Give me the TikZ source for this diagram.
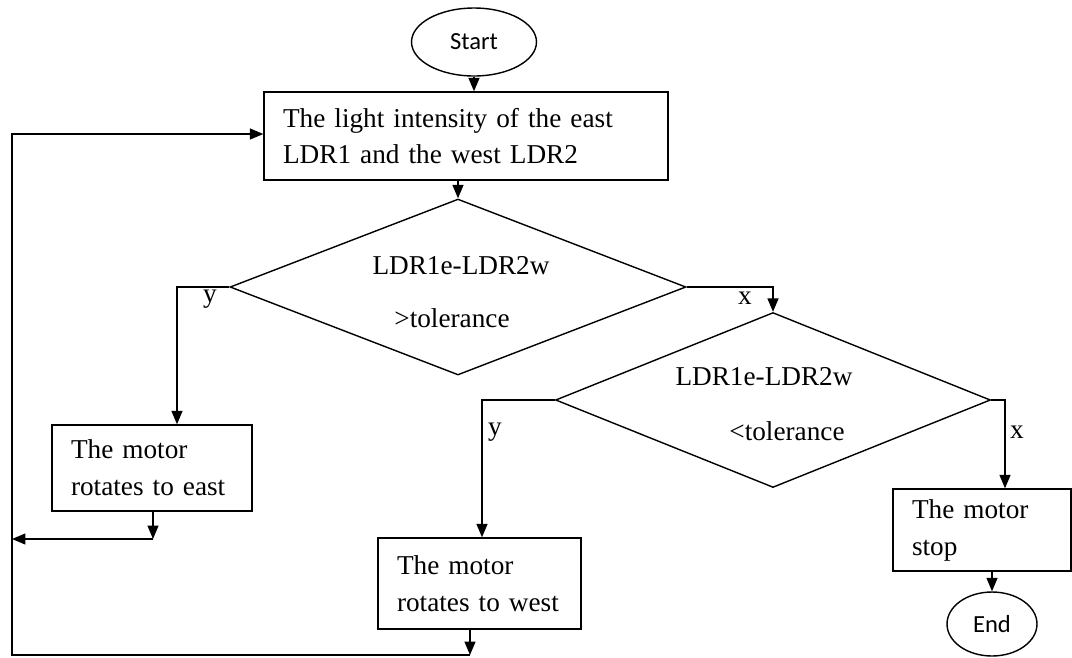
\documentclass[tikz,border=0pt]{standalone}
\usepackage{fontspec}
\setmainfont{Liberation Serif}
\newfontfamily\termfont{Carlito}
\usepackage{tikz}
\usetikzlibrary{positioning}
\usetikzlibrary{shapes.geometric,arrows.meta,calc}
\pgfkeys{tikz/mybox/.style={draw,thick,rectangle,align=left,inner xsep=0.38cm,inner ysep=0pt,font=\fontsize{15.5}{21}\selectfont}}
\pgfkeys{tikz/myterm/.style={draw,thick,ellipse,inner sep=0pt,font=\termfont\fontsize{14}{16}\selectfont}}
\pgfkeys{tikz/mydec/.style={draw,thick,diamond,inner sep=0pt}}
\pgfkeys{tikz/mytxt/.style={inner sep=0pt,font=\fontsize{15.5}{21}\selectfont}}
\pgfkeys{tikz/myarrow/.style={thick,-{Triangle[length=0.27cm,width=0.22cm]}}}

\begin{document}
\begin{tikzpicture}[x=0.02cm,y=-0.02cm]
	\useasboundingbox (0,0) rectangle (1072,657);

	\node[myterm,minimum width=2.5cm,minimum height=1.36cm] (start) at (474,42) {Start};
	\node[mybox,text width=7.32cm,minimum height=1.76cm] (light) at (466,136) {The light intensity of the east\\LDR1 and the west LDR2};

	\node[mydec,minimum width=9.12cm,minimum height=3.52cm] (cmp1) at (458,287) {};
	\node[mytxt] (cmp1a) at (461,266) {LDR1e-LDR2w};
	\node[mytxt] (cmp1b) at (452,318) {>tolerance};

	\node[mydec,minimum width=8.7cm,minimum height=3.5cm] (cmp2) at (773,400) {};
	\node[mytxt] (cmp2a) at (764,377) {LDR1e-LDR2w};
	\node[mytxt] (cmp2b) at (787,431) {<tolerance};

	\node[mybox,text width=3.24cm,minimum height=1.72cm] (east) at (152,468) {The motor\\rotates to east};
	\node[mybox,text width=3.30cm,minimum height=1.82cm] (west) at (479.5,583.5) {The motor\\rotates to west};
	\node[mybox,text width=2.80cm,minimum height=1.64cm] (stop) at (982,530) {The motor\\stop};
	\node[myterm,minimum width=1.8cm,minimum height=1.28cm] (end) at (992,624) {End};

	% branch labels
	\node[mytxt] (yes1) at (210,299) {y};
	\node[mytxt] (no1) at (745,298) {x};
	\node[mytxt] (yes2) at (495,432) {y};
	\node[mytxt] (no2) at (1017,432) {x};

	\coordinate (ybend1) at (177,287);
	\coordinate (ybend2) at (482,400);
	\coordinate (xbend2) at (1005,400);
	\coordinate (ejoin) at (153,539);
	\coordinate (wjoin) at (470,655);
	\coordinate (loopbl) at (12,655);
	\coordinate (looptl) at (12,134);

	\draw[myarrow] (start) -- (start |- light.north);
	\draw[myarrow] (cmp1.north |- light.south) -- (cmp1.north);
	\draw[myarrow] (cmp1.west) -- (ybend1) -- (ybend1 |- east.north);
	\draw[myarrow] (cmp1.east) -| (cmp2.north);
	\draw[myarrow] (cmp2.west) -- (ybend2) -- (ybend2 |- west.north);
	\draw[myarrow] (cmp2.east) -- (xbend2) -- (xbend2 |- stop.north);
	\draw[myarrow] (end.north |- stop.south) -- (end.north);

	\draw[myarrow] (ejoin |- east.south) -- (ejoin);
	\draw[myarrow] (ejoin) -- (ejoin -| looptl);
	\draw[myarrow] (wjoin |- west.south) -- (wjoin);
	\draw[myarrow] (wjoin) -- (loopbl) -- (looptl) -- (looptl -| light.west);
\end{tikzpicture}
\end{document}
